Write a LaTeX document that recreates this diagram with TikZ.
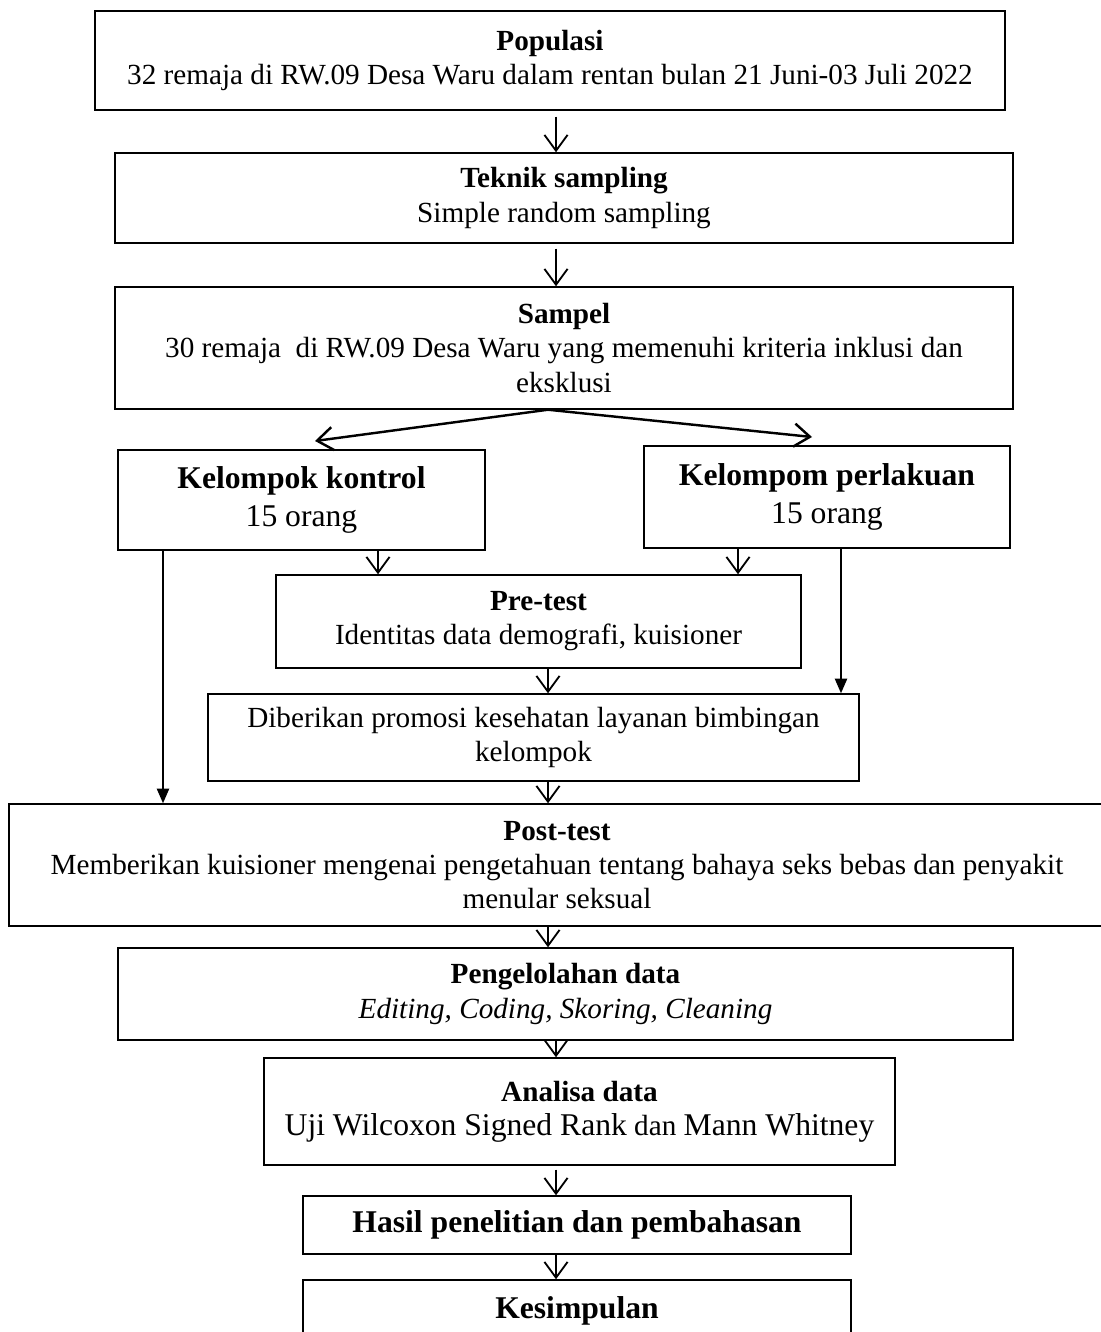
\documentclass[tikz,border=0pt]{standalone}
\usepackage{fontspec}
\setmainfont{Liberation Serif}
\usetikzlibrary{arrows.meta}

\def\u{0.411pt}

\begin{document}
\begin{tikzpicture}[x=\u, y=-\u]
        \tikzstyle{kotak}=[draw, line width=0.6pt, rectangle, align=center, inner sep=0pt, font=\fontsize{12}{14}\selectfont]
        \tikzstyle{besar}=[font=\fontsize{13}{15.3}\selectfont]
        \tikzstyle{panah}=[-{Straight Barb[length=6.5pt,width=9.5pt]}, line width=0.75pt]
        \tikzstyle{panahisi}=[-{Triangle[length=6pt,width=5pt]}, line width=0.75pt]
        \useasboundingbox (0,0) rectangle (1100,1332);
        % kolom panah
        \coordinate (k1) at (163,0);
        \coordinate (k2) at (378,0);
        \coordinate (k3) at (548,0);
        \coordinate (k4) at (556,0);
        \coordinate (k5) at (738,0);
        \coordinate (k6) at (841,0);
        % kotak
        \node[kotak, minimum width=910*\u, minimum height=99*\u] (pop) at (550,60.5) {\textbf{Populasi}\\32 remaja di RW.09 Desa Waru dalam rentan bulan 21 Juni-03 Juli 2022};
        \node[kotak, minimum width=898*\u, minimum height=90*\u] (teknik) at (564,198) {\textbf{Teknik sampling}\\Simple random sampling};
        \node[kotak, minimum width=898*\u, minimum height=122*\u] (sampel) at (564,348) {\textbf{Sampel}\\30 remaja~ di RW.09 Desa Waru yang memenuhi kriteria inklusi dan\\eksklusi};
        \node[kotak, besar, minimum width=367*\u, minimum height=100*\u] (kontrol) at (301.5,500) {\textbf{Kelompok kontrol}\\15 orang};
        \node[kotak, besar, minimum width=366*\u, minimum height=102*\u] (perlakuan) at (827,497) {\textbf{Kelompom perlakuan}\\15 orang};
        \node[kotak, minimum width=525*\u, minimum height=93*\u] (pretest) at (538.5,621.5) {\textbf{Pre-test}\\Identitas data demografi, kuisioner};
        \node[kotak, minimum width=651*\u, minimum height=87*\u] (diberikan) at (533.5,737.5) {Diberikan promosi kesehatan layanan bimbingan\\kelompok};
        \node[kotak, minimum width=1096*\u, minimum height=122*\u] (posttest) at (557,865) {\textbf{Post-test}\\Memberikan kuisioner mengenai pengetahuan tentang bahaya seks bebas dan penyakit\\menular seksual};
        \node[kotak, minimum width=895*\u, minimum height=92*\u] (olah) at (565.5,994) {\textbf{Pengelolahan data}\\\textit{Editing, Coding, Skoring, Cleaning}};
        \node[kotak, minimum width=631*\u, minimum height=107*\u] (analisa) at (579.5,1111.5) {\textbf{Analisa data}\\{\fontsize{13}{15.3}\selectfont Uji Wilcoxon Signed Rank} dan {\fontsize{13}{15.3}\selectfont Mann Whitney}};
        \node[kotak, besar, minimum width=548*\u, minimum height=58*\u] (hasil) at (577,1225) {\textbf{Hasil penelitian dan pembahasan}};
        \node[kotak, besar, minimum width=548*\u, minimum height=62*\u] (simpul) at (577,1311) {\textbf{Kesimpulan}};
        % ujung panah bercabang
        \coordinate (kiri) at (315,441);
        \coordinate (kanan) at (812,437);
        % panah
        \draw[panah] ([yshift=-6*\u]pop.south -| k4) -- (teknik.north -| k4);
        \draw[panah] ([yshift=-5*\u]teknik.south -| k4) -- (sampel.north -| k4);
        \draw[panah, line width=1pt] (sampel.south -| k3) -- (kiri);
        \draw[panah, line width=1pt] (sampel.south -| k3) -- (kanan);
        \draw[panah] (kontrol.south -| k2) -- (pretest.north -| k2);
        \draw[panah] (perlakuan.south -| k5) -- (pretest.north -| k5);
        \draw[panahisi] (kontrol.south -| k1) -- (posttest.north -| k1);
        \draw[panahisi] (perlakuan.south -| k6) -- (diberikan.north -| k6);
        \draw[panah] (pretest.south -| k3) -- (diberikan.north -| k3);
        \draw[panah] (diberikan.south -| k3) -- (posttest.north -| k3);
        \draw[panah] (posttest.south -| k3) -- (olah.north -| k3);
        \draw[panah] (olah.south -| k4) -- (analisa.north -| k4);
        \draw[panah] ([yshift=-4*\u]analisa.south -| k4) -- (hasil.north -| k4);
        \draw[panah] (hasil.south -| k4) -- (simpul.north -| k4);
\end{tikzpicture}
\end{document}
